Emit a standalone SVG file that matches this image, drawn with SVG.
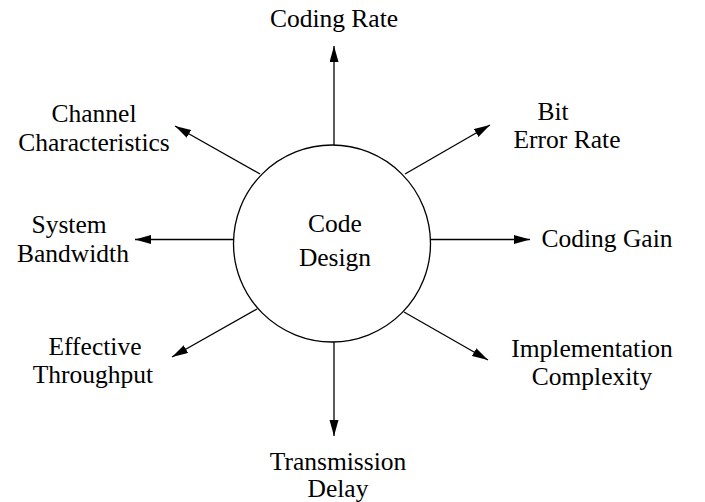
<svg xmlns="http://www.w3.org/2000/svg" width="705" height="502" viewBox="0 0 705 502">
  <defs>
    <marker id="ah" markerUnits="userSpaceOnUse" markerWidth="17" markerHeight="10" refX="16" refY="4.5" orient="auto">
      <path d="M0,0 L16,4.5 L0,9 z" fill="#000"/>
    </marker>
    <style>
      .lbl { font-size: 25.5px; fill: #000; text-anchor: middle; }
      .edge { stroke: #000; stroke-width: 1.3; fill: none; marker-end: url(#ah); }
      .node-shape { fill: #fff; stroke: #000; stroke-width: 1.3; }
    </style>
  </defs>
  <rect width="705" height="502" fill="#fff"/>
  <g id="connectors">
    <line class="edge" x1="334" y1="145" x2="334" y2="46"/>
    <line class="edge" x1="334" y1="342" x2="334" y2="436"/>
    <line class="edge" x1="431" y1="239.5" x2="530" y2="239.5"/>
    <line class="edge" x1="233" y1="239.5" x2="135" y2="239.5"/>
    <line class="edge" x1="260" y1="174" x2="175" y2="126"/>
    <line class="edge" x1="405" y1="174" x2="490" y2="125"/>
    <line class="edge" x1="257" y1="309" x2="172" y2="357"/>
    <line class="edge" x1="404" y1="312" x2="488" y2="360"/>
  </g>
  <g font-family="Liberation Serif, Times New Roman, serif">
    <g id="code-design">
      <circle class="node-shape" cx="332" cy="243.5" r="98.5"/>
      <text class="lbl" x="335" y="232">Code</text>
      <text class="lbl" x="335" y="266">Design</text>
    </g>
    <g id="coding-rate">
      <text class="lbl" x="334" y="27">Coding Rate</text>
    </g>
    <g id="channel-characteristics">
      <text class="lbl" x="94" y="122">Channel</text>
      <text class="lbl" x="94" y="151">Characteristics</text>
    </g>
    <g id="bit-error-rate">
      <text class="lbl" x="553" y="120">Bit</text>
      <text class="lbl" x="567" y="148">Error Rate</text>
    </g>
    <g id="system-bandwidth">
      <text class="lbl" x="69" y="233">System</text>
      <text class="lbl" x="73" y="262">Bandwidth</text>
    </g>
    <g id="coding-gain">
      <text class="lbl" x="607" y="247">Coding Gain</text>
    </g>
    <g id="effective-throughput">
      <text class="lbl" x="95" y="355">Effective</text>
      <text class="lbl" x="93" y="383">Throughput</text>
    </g>
    <g id="implementation-complexity">
      <text class="lbl" x="592" y="357">Implementation</text>
      <text class="lbl" x="592" y="385">Complexity</text>
    </g>
    <g id="transmission-delay">
      <text class="lbl" x="338" y="470">Transmission</text>
      <text class="lbl" x="338" y="497">Delay</text>
    </g>
  </g>
</svg>
